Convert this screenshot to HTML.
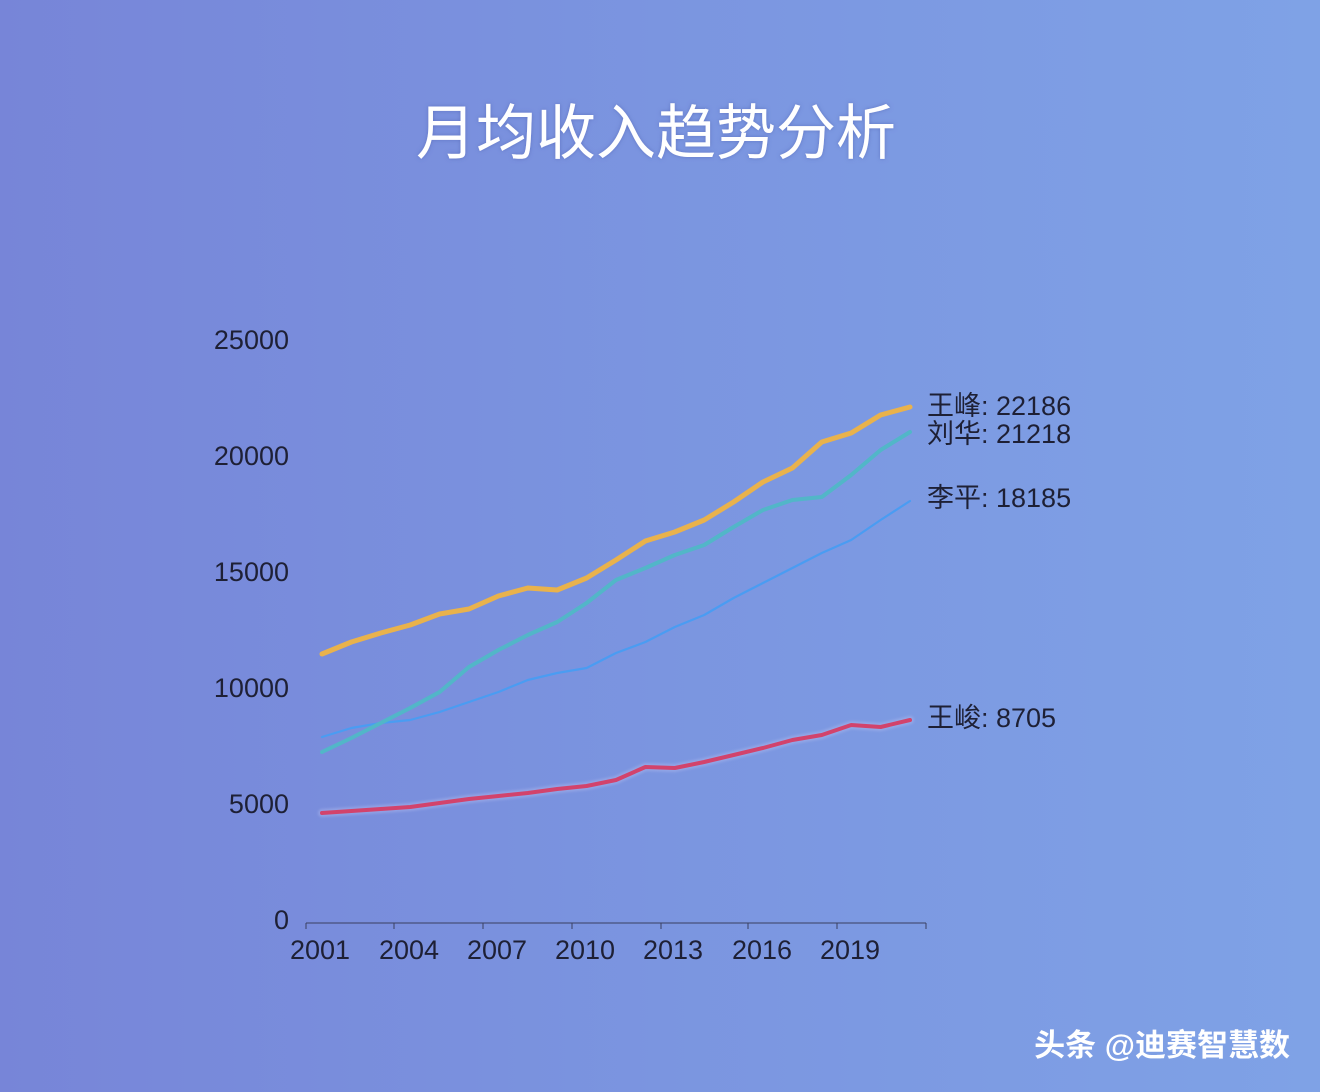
<!DOCTYPE html>
<html><head><meta charset="utf-8"><style>
html,body{margin:0;padding:0}
body{width:1320px;height:1092px;overflow:hidden;background:linear-gradient(90deg,#7785d8 0%,#7b95e0 50%,#7fa2e6 100%);font-family:"Liberation Sans","Noto Sans CJK SC",sans-serif;}
</style></head><body>
<svg width="1320" height="1092" xmlns="http://www.w3.org/2000/svg" style="position:absolute;left:0;top:0">
<defs><filter id="g" x="-10%" y="-10%" width="120%" height="120%"><feGaussianBlur stdDeviation="1.2"/></filter>
<filter id="ts"><feDropShadow dx="0" dy="0" stdDeviation="2" flood-color="#5060b0" flood-opacity="0.6"/></filter></defs>
<text x="656" y="154" text-anchor="middle" font-size="60" fill="#ffffff" filter="url(#ts)" font-family="Noto Sans CJK SC, sans-serif" font-weight="normal">月均收入趋势分析</text>
<g font-size="27" fill="#1e2035" text-anchor="end" font-family="Liberation Sans, sans-serif">
<text x="289" y="349">25000</text><text x="289" y="465">20000</text><text x="289" y="581">15000</text>
<text x="289" y="697">10000</text><text x="289" y="813">5000</text><text x="289" y="929">0</text></g>
<g stroke="#3a3f60" stroke-width="1" fill="none">
<line x1="306" y1="923" x2="926" y2="923"/>
<line x1="306" y1="923" x2="306" y2="929"/><line x1="394" y1="923" x2="394" y2="929"/><line x1="483" y1="923" x2="483" y2="929"/><line x1="572" y1="923" x2="572" y2="929"/><line x1="661" y1="923" x2="661" y2="929"/><line x1="748" y1="923" x2="748" y2="929"/><line x1="837" y1="923" x2="837" y2="929"/><line x1="926" y1="923" x2="926" y2="929"/></g>
<g font-size="27" fill="#1e2035" text-anchor="middle" font-family="Liberation Sans, sans-serif">
<text x="320" y="959">2001</text><text x="409" y="959">2004</text><text x="497" y="959">2007</text><text x="585" y="959">2010</text><text x="673" y="959">2013</text><text x="762" y="959">2016</text><text x="850" y="959">2019</text></g>
<g fill="none" stroke-linejoin="round" stroke-linecap="round">
<polyline stroke="#b8c0f0" stroke-width="8" opacity="0.4" filter="url(#g)" points="322,813 351.4,811 380.8,809 410.2,807 439.6,803 469,799 498.4,796 527.8,793 557.2,789 586.6,786 616,780 645.4,767 674.8,768 704.2,762 733.6,755 763,748 792.4,740 821.8,735 851.2,725 880.6,727 910,720"/>
<polyline stroke="#d2436c" stroke-width="4" points="322,813 351.4,811 380.8,809 410.2,807 439.6,803 469,799 498.4,796 527.8,793 557.2,789 586.6,786 616,780 645.4,767 674.8,768 704.2,762 733.6,755 763,748 792.4,740 821.8,735 851.2,725 880.6,727 910,720"/>
<polyline stroke="#4a9cf2" stroke-width="2.2" points="322,737 351.4,728 380.8,723 410.2,720 439.6,712 469,702 498.4,692 527.8,680 557.2,673 586.6,668 616,653 645.4,642 674.8,627 704.2,615 733.6,598 763,583 792.4,568 821.8,553 851.2,540 880.6,520 910,501"/>
<polyline stroke="#52b6c8" stroke-width="4" points="322,752 351.4,738 380.8,723 410.2,708 439.6,692 469,667 498.4,650 527.8,635 557.2,622 586.6,603 616,580 645.4,568 674.8,555 704.2,545 733.6,527 763,510 792.4,500 821.8,497 851.2,475 880.6,450 910,432"/>
<polyline stroke="#e9b24c" stroke-width="5" points="322,654 351.4,642 380.8,633 410.2,625 439.6,614 469,609 498.4,596 527.8,588 557.2,590 586.6,578 616,560 645.4,541 674.8,532 704.2,520 733.6,502 763,482 792.4,468 821.8,442 851.2,433 880.6,415 910,407"/>
</g>
<g font-size="27" fill="#1e2035" font-family="Liberation Sans, Noto Sans CJK SC, sans-serif">
<text x="927" y="415">王峰: 22186</text><text x="927" y="443">刘华: 21218</text><text x="927" y="507">李平: 18185</text><text x="927" y="727">王峻: 8705</text></g>
<text x="1290" y="1056" text-anchor="end" font-size="31" fill="#ffffff" font-family="Liberation Sans, Noto Sans CJK SC, sans-serif" font-weight="bold">头条 @迪赛智慧数</text>
</svg>
</body></html>
